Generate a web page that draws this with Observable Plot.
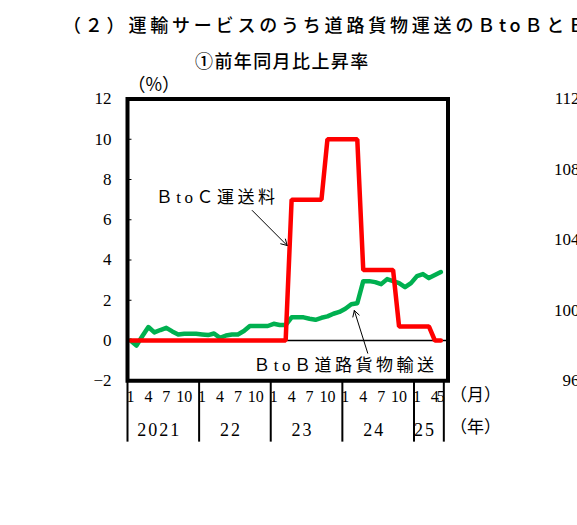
<!DOCTYPE html>
<html><head><meta charset="utf-8">
<script src="https://cdn.jsdelivr.net/npm/d3@7"></script>
<script src="https://cdn.jsdelivr.net/npm/@observablehq/plot@0.6"></script>
<style>
html,body{margin:0;padding:0;background:#fff;overflow:hidden;}
#wrap{position:relative;width:577px;height:525px;overflow:hidden;background:#fff;}
.t{position:absolute;white-space:nowrap;font-family:'Noto Sans CJK JP',sans-serif;color:#000;font-weight:500;}
#t1{left:63px;top:14px;font-size:18px;line-height:20px;letter-spacing:3.8px;}
#t2{left:195px;top:50px;font-size:18px;line-height:20px;letter-spacing:1.4px;}
#chart{position:absolute;left:0;top:70px;}
</style></head><body>
<div id="wrap">
<div class="t" id="t1">（２）運輸サービスのうち道路貨物運送のＢtoＢとＢtoＣ運送料</div>
<div class="t" id="t2">①前年同月比上昇率</div>
<div id="chart"></div>
</div>
<script>
// Months: 2021-01 .. 2025-05
const months = d3.utcMonth.range(new Date(Date.UTC(2021, 0, 1)), new Date(Date.UTC(2025, 5, 1)));

// BtoB road freight (前年同月比, %)
const btobRoad = [
  0.0, -0.25, 0.22, 0.67, 0.4, 0.52, 0.63, 0.45, 0.3, 0.33,
  0.33, 0.33, 0.3, 0.27, 0.35, 0.13, 0.25, 0.3, 0.3, 0.47,
  0.72, 0.72, 0.72, 0.72, 0.83, 0.77, 0.77, 1.15, 1.15, 1.15,
  1.08, 1.03, 1.13, 1.2, 1.33, 1.42, 1.58, 1.8, 1.85, 2.95,
  2.95, 2.9, 2.8, 3.05, 2.95, 2.85, 2.65, 2.85, 3.2, 3.3,
  3.1, 3.25, 3.4
];

// BtoC delivery fee (前年同月比, %)
const btocFee = [
  0, 0, 0, 0, 0, 0, 0, 0, 0, 0,
  0, 0, 0, 0, 0, 0, 0, 0, 0, 0,
  0, 0, 0, 0, 0, 0, 0, 7.0, 7.0, 7.0,
  7.0, 7.0, 7.0, 10.0, 10.0, 10.0, 10.0, 10.0, 10.0, 3.5,
  3.5, 3.5, 3.5, 3.5, 3.5, 0.7, 0.7, 0.7, 0.7, 0.7,
  0.7, 0, 0
];

const yTicks = [-2, 0, 2, 4, 6, 8, 10, 12];
const monthTickNumbers = [1, 4, 7, 10];
const yearLabels = ["2021", "22", "23", "24", "25"];
const rightAxisTicks = [112, 108, 104, 100, 96];   // axis of the adjoining (cropped) chart
const rightAxisDomain = [96, 112];

const annotationLabels = [
  {text: "ＢtoＣ運送料", x: 14.5, y: 7.1},
  {text: "ＢtoＢ道路貨物輸送", x: 36.0, y: -1.24}
];
const annotationArrows = [
  {x1: 20.4, y1: 6.46, x2: 26.25, y2: 4.72},
  {x1: 39.75, y1: -0.63, x2: 37.5, y2: 1.49}
];

const rows = months.map((d, i) => ({i, date: d, btob: btobRoad[i], btoc: btocFee[i]}));
const last = rows.length - 1;
const monthTicks = rows
  .filter(r => monthTickNumbers.includes(r.date.getUTCMonth() + 1) || r.i === last)
  .map(r => ({i: r.i, label: String(r.date.getUTCMonth() + 1)}));
const yearGroups = d3.groups(rows, r => r.date.getUTCFullYear()).map(([yr, rs], k) => ({
  first: rs[0].i, last: rs[rs.length - 1].i,
  center: (rs[0].i + rs[rs.length - 1].i) / 2, label: yearLabels[k]
}));
const separators = [...yearGroups.map(g => g.first - 0.5), yearGroups[yearGroups.length - 1].last + 0.5];
const yDomain = [-2, 12];
const toLeft = v => yDomain[0] + (v - rightAxisDomain[0]) * (yDomain[1] - yDomain[0]) / (rightAxisDomain[1] - rightAxisDomain[0]);

const serif = "'Liberation Serif', 'Noto Sans CJK JP', serif";
const cjk = "'Noto Sans CJK JP', sans-serif";

const chart = Plot.plot({
  width: 577, height: 455,
  marginLeft: 127, marginRight: 129.5, marginTop: 28.5, marginBottom: 144.75,
  x: {type: "linear", domain: [-0.5, 53.2], axis: null},
  y: {domain: yDomain, axis: null},
  style: {fontFamily: serif, fontSize: "17px", background: "white", overflow: "visible", color: "black"},
  marks: [
    Plot.ruleY([0], {stroke: "black", strokeWidth: 1.5}),
    Plot.ruleY(yTicks, {x1: -0.5, x2: 0.25, stroke: "black", strokeWidth: 1}),
    Plot.line(rows, {x: "i", y: "btob", stroke: "#00b050", strokeWidth: 4.5}),
    Plot.line(rows, {x: "i", y: "btoc", stroke: "#ff0000", strokeWidth: 4.5, strokeLinejoin: "miter"}),
    Plot.frame({stroke: "black", strokeWidth: 4}),
    Plot.axisY(yTicks, {tickSize: 0, tickPadding: 16, fontSize: 17, fontFamily: serif}),
    Plot.text(monthTicks, {x: "i", text: "label", frameAnchor: "bottom", lineAnchor: "middle", dy: 16.5, fontSize: 16, fontFamily: serif}),
    Plot.text(yearGroups, {x: "center", text: "label", frameAnchor: "bottom", lineAnchor: "middle", dx: -4, dy: 49.75, fontSize: 18, fontFamily: serif}),
    Plot.ruleX(separators, {y1: -2, y2: -5.05, stroke: "black", strokeWidth: 2}),
    Plot.text(["（月）"], {text: d => d, frameAnchor: "bottom-right", textAnchor: "start", lineAnchor: "middle", dx: 2, dy: 15, fontSize: 17, fontFamily: cjk}),
    Plot.text(["（年）"], {text: d => d, frameAnchor: "bottom-right", textAnchor: "start", lineAnchor: "middle", dx: 2, dy: 46.5, fontSize: 17, fontFamily: cjk}),
    Plot.text(["（%）"], {text: d => d, frameAnchor: "top-left", textAnchor: "start", lineAnchor: "middle", dx: 0, dy: -13.5, fontSize: 18, fontFamily: cjk}),
    Plot.text(rightAxisTicks, {y: v => toLeft(v), text: v => String(v), frameAnchor: "right", textAnchor: "end", lineAnchor: "middle", dx: 131.5, fontSize: 17, fontFamily: serif}),
    Plot.text(annotationLabels, {x: "x", y: "y", text: "text", lineAnchor: "middle", fontSize: 17, fontFamily: serif}),
    Plot.arrow(annotationArrows, {x1: "x1", y1: "y1", x2: "x2", y2: "y2", stroke: "black", strokeWidth: 1, headLength: 10})
  ]
});
// letter spacing on annotation and year labels (styling only)
d3.select(chart).selectAll("text")
  .filter(function() { return /運送料|道路貨物/.test(this.textContent); })
  .attr("letter-spacing", "3.5px");
d3.select(chart).selectAll("text")
  .filter(function() { return yearLabels.includes(this.textContent); })
  .attr("letter-spacing", "2px");
document.getElementById("chart").appendChild(chart);
</script>
</body></html>
